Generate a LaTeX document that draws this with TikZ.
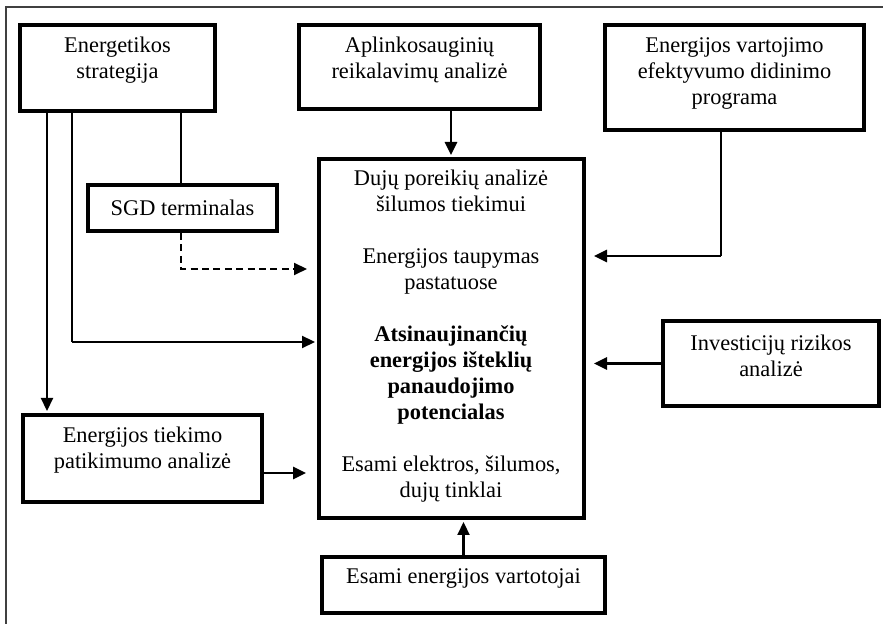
\documentclass[tikz,border=0pt]{standalone}
\usepackage{fontspec}
\setmainfont{Liberation Serif}
\usetikzlibrary{arrows.meta,calc}
\begin{document}
\begin{tikzpicture}[x=0.5pt,y=-0.5pt,
  font=\fontsize{11.2}{13}\selectfont,
  box/.style={draw, line width=2pt, rectangle, inner sep=0pt},
  txt/.style={align=center, inner sep=0pt},
  thickarrow/.style={line width=1.3pt, -{Triangle[length=6.5pt,width=6pt]}},
  thinline/.style={line width=0.65pt},
  frameline/.style={line width=0.7pt, black!75}]
\useasboundingbox (0,0) rectangle (883,624);
% frame (left and top edges only)
\coordinate (f1) at (6,624);
\coordinate (f2) at (6,7);
\coordinate (f3) at (883,7);
\draw[frameline] (f1) -- (f2) -- (f3);
% boxes
\node[box, minimum width=97.5pt, minimum height=43pt] (E) at (117.5,68) {};
\node[txt] (Et) at (117.5,60) {Energetikos\\strategija};
\node[box, minimum width=120.5pt, minimum height=42pt] (A) at (419.5,67) {};
\node[txt] (At) at (419.5,60) {Aplinkosauginių\\reikalavimų analizė};
\node[box, minimum width=129.5pt, minimum height=52.5pt] (V) at (734.5,77.5) {};
\node[txt] (Vt) at (734.5,73.5) {Energijos vartojimo\\efektyvumo didinimo\\programa};
\node[box, minimum width=94.5pt, minimum height=23pt] (S) at (182.5,208) {};
\node[txt] (St) at (182.5,208) {SGD terminalas};
\node[box, minimum width=132.5pt, minimum height=179.5pt] (M) at (451.5,338.5) {};
\node[txt] (Mt) at (451,336) {Dujų poreikių analizė\\šilumos tiekimui\\[13pt]
  Energijos taupymas\\pastatuose\\[13pt]
  \textbf{Atsinaujinančių}\\\textbf{energijos išteklių}\\\textbf{panaudojimo}\\\textbf{potencialas}\\[13pt]
  Esami elektros, šilumos,\\dujų tinklai};
\node[box, minimum width=108pt, minimum height=42.5pt] (I) at (771,363.5) {};
\node[txt] (It) at (771,356) {Investicijų rizikos\\analizė};
\node[box, minimum width=119.5pt, minimum height=43.5pt] (T) at (142.5,458.5) {};
\node[txt] (Tt) at (142.5,450) {Energijos tiekimo\\patikimumo analizė};
\node[box, minimum width=141.5pt, minimum height=28pt] (R) at (463.5,585) {};
\node[txt] (Rt) at (463.5,579) {Esami energijos vartotojai};
% helper coordinates
\coordinate (c1) at (47,0);
\coordinate (c2) at (72,342);
\coordinate (c3) at (181,269);
\coordinate (c4) at (451,0);
\coordinate (c5) at (721,256);
\coordinate (c6) at (0,473);
% connectors
\draw[thickarrow, line width=1.1pt, shorten >=1pt] (E.south -| c1) -- (T.north -| c1);
\draw[thinline] (E.south -| c2) -- (c2);
\draw[thickarrow, line width=1.1pt, shorten >=1pt] (c2) -- (M.west |- c2);
\draw[thinline] (E.south -| c3) -- (S.north -| c3);
\draw[line width=1pt, dash pattern=on 3.5pt off 2.2pt, -{Triangle[length=6.5pt,width=6pt]}, shorten >=5pt]
  (S.south -| c3) -- (c3) -- (M.west |- c3);
\draw[thickarrow, shorten >=1pt] (A.south -| c4) -- (M.north -| c4);
\draw[thinline] (V.south -| c5) -- (c5);
\draw[thickarrow, shorten >=4pt] (c5) -- (M.east |- c5);
\draw[thickarrow, shorten >=4pt] (I.west) -- (M.east |- I.west);
\draw[thickarrow, shorten >=5.5pt] (T.east |- c6) -- (M.west |- c6);
\draw[thickarrow, line width=1.1pt, shorten >=1pt] (R.north) -- (M.south -| R.north);
\end{tikzpicture}
\end{document}
